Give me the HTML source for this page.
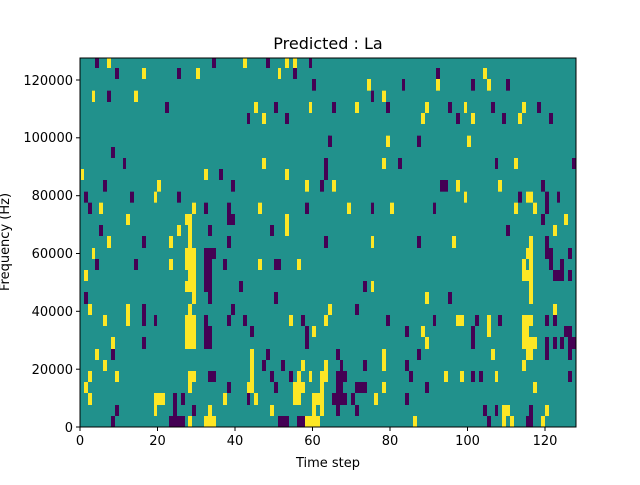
<!DOCTYPE html>
<html><head><meta charset="utf-8"><style>
body{margin:0;background:#fff;width:640px;height:480px;overflow:hidden}
text{font-family:"DejaVu Sans","Liberation Sans",sans-serif;fill:#000}
</style></head><body>
<svg id="s" width="640" height="480" xmlns="http://www.w3.org/2000/svg">
<defs><clipPath id="c"><rect x="80" y="58" width="496" height="369"/></clipPath></defs>
<rect x="80" y="58" width="496" height="369" fill="#21918c"/>
<g clip-path="url(#c)" id="cells"></g>
<rect x="80" y="58" width="496" height="369" fill="none" stroke="#000" stroke-width="1"/>
<g stroke="#000" stroke-width="1">
<line x1="80" y1="427" x2="80" y2="431"/><line x1="157.5" y1="427" x2="157.5" y2="431"/><line x1="235" y1="427" x2="235" y2="431"/><line x1="312.5" y1="427" x2="312.5" y2="431"/><line x1="390" y1="427" x2="390" y2="431"/><line x1="467.5" y1="427" x2="467.5" y2="431"/><line x1="545" y1="427" x2="545" y2="431"/>
<line x1="76" y1="427" x2="80" y2="427"/><line x1="76" y1="369.2" x2="80" y2="369.2"/><line x1="76" y1="311.3" x2="80" y2="311.3"/><line x1="76" y1="253.5" x2="80" y2="253.5"/><line x1="76" y1="195.7" x2="80" y2="195.7"/><line x1="76" y1="137.8" x2="80" y2="137.8"/><line x1="76" y1="80" x2="80" y2="80"/>
</g>
<g font-size="13" text-anchor="middle">
<text x="80" y="445">0</text><text x="157.5" y="445">20</text><text x="235" y="445">40</text><text x="312.5" y="445">60</text><text x="390" y="445">80</text><text x="467.5" y="445">100</text><text x="545" y="445">120</text>
<text x="328" y="467">Time step</text>
</g>
<g font-size="13" text-anchor="end">
<text x="73" y="432">0</text><text x="73" y="374">20000</text><text x="73" y="316">40000</text><text x="73" y="258">60000</text><text x="73" y="200">80000</text><text x="73" y="142">100000</text><text x="73" y="85">120000</text>
</g>
<text x="9" y="242" font-size="13" text-anchor="middle" transform="rotate(-90 9 242)">Frequency (Hz)</text>
<text x="328" y="49" font-size="16" text-anchor="middle">Predicted : La</text>
</svg>
<script>
var Z=[
[80,57,[
[3,33,"P45-57 Y81-93 P396-408 Y489-501 P558-570 Y615-627 Y639-651 P687-696"],
[33,66,"P105-117 Y186-198 P291-303 Y348-360 Y594-603 P639-651"],
[66,101,"P696-708"],
[101,135,"Y36-45 P81-93 Y162-174"],
[135,168,"P255-267 Y522-534 P582-594 Y687-696"],
[168,201,"P501-510 Y546-558 P615-627"],
[236,270,"P744-750"],
[270,303,"P93-105"],
[303,336,"P129-138 Y546-558"],
[303,369,"P732-744"],
[336,369,"Y3-12 Y372-384 P417-429 Y615-627"],
[369,404,"P69-81 Y231-243 P453-465 Y675-687 P720-732"],
[404,437,"P12-24 P150-162 Y222-231 P291-303"],
[437,471,"P24-36 Y57-69 Y336-348 P372-384 P441-453 Y534-546 P675-687"],
[471,504,"Y138-150 Y315-336 P441-465 Y615-627"],
[504,537,"P57-69 Y291-303 Y324-336 P384-396 P570-582 Y615-627"],
[537,555,"Y81-93 P186-198 Y267-279 Y324-336 P441-453 P732-744"]]],
[326,57,[
[33,66,"P330-342 Y471-483"],
[66,101,"Y123-135 P228-237 Y330-342 P435-447 Y483-495 P540-552"],
[101,135,"P135-144 Y168-180"],
[135,168,"P18-30 Y87-99 P180-192 Y297-309 P366-378 Y414-423 P495-507 Y588-600 P633-645"],
[168,201,"Y285-297 P390-402 Y435-447 P528-540 Y576-588 P669-681"],
[236,270,"P6-18 Y180-192 P273-285 Y423-435"],
[303,369,"P0-6"],
[303,336,"Y168-180 P216-228 P507-516 Y564-576 P738-750"],
[369,404,"Y18-30 P342-366 Y390-402 Y516-528 P645-657"],
[404,437,"Y414-423 P576-588 Y600-621 P693-702"],
[404,471,"P657-669"],
[437,471,"Y63-75 P135-144 Y192-204 P321-330 Y564-576 Y621-633"],
[471,504,"P645-657 Y714-726"],
[504,537,"P540-552 Y681-693"],
[537,555,"P0-6 Y135-144 P273-285 Y378-390 Y609-621 P657-669"]]],
[80,242,[
[0,18,"Y81-93 P186-198 Y267-279 Y324-336 P441-453 P732-744"],
[18,51,"Y36-45 Y315-348 P372-408"],
[51,84,"P45-57 P162-174 Y267-279 Y315-348 P372-396 P429-441 Y534-546 P582-603 Y651-663"],
[84,117,"Y12-24 Y324-348 P372-396"],
[117,150,"Y315-348 P372-396 P477-489"],
[150,186,"P12-24 Y336-348 P384-396 P582-594"],
[186,219,"Y24-36 Y138-150 P186-198 Y324-336 P453-465 Y744-750"],
[219,252,"Y69-81 Y138-150 P186-198 P222-231 Y315-348 P372-384 P441-453 P489-501 Y627-639 P663-675 Y732-744"],
[252,285,"Y315-348 P372-396 P510-522 P675-687 Y696-708"],
[285,321,"Y93-105 P186-198 Y315-348 P372-396 P675-687"],
[321,354,"Y45-57 P93-105 Y510-522 P558-570"],
[354,387,"Y69-81 Y510-522 P546-558 P603-615 Y663-675 Y732-744"],
[387,420,"Y24-36 Y105-117 Y324-348 P384-408 Y510-522 P570-582 P627-639 Y651-663 Y687-696 Y720-744"],
[420,453,"Y12-24 Y324-336 P441-453 Y501-522 P582-594 Y639-675 Y720-732"],
[453,489,"Y24-36 Y222-255 P279-291 P303-315 Y429-441 P501-510 Y522-534 Y639-663 Y696-732"],
[489,522,"P105-117 Y222-231 P279-291 P336-348 Y384-396 Y570-582 Y696-708 Y720-732"],
[522,555,"P93-105 P267-315 Y324-336 Y372-408 P594-627 P651-675 Y675-720"]]],
[326,242,[
[0,18,"P0-6 Y135-144 P273-285 Y378-390 Y609-621 P657-669"],
[18,51,"Y600-621 P657-681 P726-738"],
[51,84,"Y588-600 Y609-621 P669-681 P702-714"],
[84,117,"Y588-621 P681-714 P726-738"],
[117,150,"P111-123 Y135-144 Y609-621"],
[150,186,"Y297-309 P366-378 Y609-621"],
[186,219,"Y6-18 P87-99 Y681-693"],
[219,252,"Y0-6 P180-192 P321-330 Y390-414 P447-459 Y483-495 P516-528 Y588-621 P657-669 P681-693"],
[252,285,"P237-249 Y285-297 P435-447 Y483-495 Y588-609 P714-738"],
[285,321,"Y297-309 P435-447 Y588-633 P657-669 P681-693 P702-714 P726-750"],
[321,354,"P30-42 Y168-180 P273-285 Y495-507 Y600-621 P657-669 P726-738"],
[354,387,"Y0-6 P42-51 P111-123 Y168-180 P237-249 Y588-600"],
[387,420,"Y0-6 P30-63 P249-261 Y354-366 Y402-414 P435-447 P459-471 Y507-516 P726-738"],
[420,453,"P30-51 P87-123 Y168-180 P297-309 Y621-633"],
[453,489,"P18-63 P75-87 Y144-156 P237-249"],
[489,522,"P30-42 P87-99 P471-483 P507-516 Y528-552 P609-621 Y657-669"],
[522,555,"Y261-273 P483-495 Y528-540 Y552-564 P600-621 Y645-657"]]]
];
var g=document.getElementById("cells"),ns="http://www.w3.org/2000/svg";
Z.forEach(function(z){z[2].forEach(function(r){r[2].split(" ").forEach(function(t){
var c=t[0]=="P"?"#440154":"#fde725",a=t.slice(1).split("-");
var e=document.createElementNS(ns,"rect");
e.setAttribute("x",z[0]+a[0]/3);e.setAttribute("width",(a[1]-a[0])/3);
e.setAttribute("y",z[1]+r[0]/3);e.setAttribute("height",(r[1]-r[0])/3);
e.setAttribute("fill",c);g.appendChild(e);});});});
</script>
</body></html>
